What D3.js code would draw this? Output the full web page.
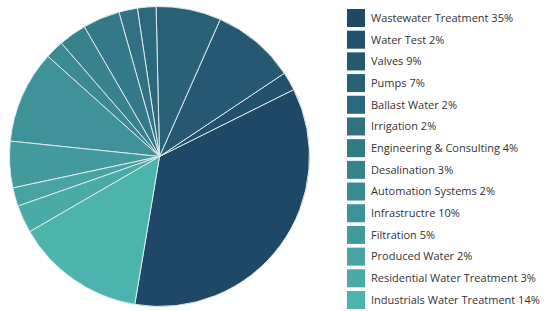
<!DOCTYPE html>
<html>
	<head>
		<script src="https://d3js.org/d3.v7.min.js"></script>
		<style>
			body { margin: 0; background: #fff; }
			svg { display: block; }
			.legend text { font-family: "Open Sans", sans-serif; font-size: 11px; fill: #333; }
		</style>
	</head>
	<body>
		<svg id="chart" width="560" height="311"></svg>
		<script>
			// segments, in legend order
			var categories = ["Wastewater Treatment", "Water Test", "Valves", "Pumps", "Ballast Water",
				"Irrigation", "Engineering & Consulting", "Desalination", "Automation Systems",
				"Infrastructre", "Filtration", "Produced Water", "Residential Water Treatment",
				"Industrials Water Treatment"];
			var shares = [35, 2, 9, 7, 2, 2, 4, 3, 2, 10, 5, 2, 3, 14];

			var svg = d3.select("#chart");
			var cx = 159.5, cy = 156.5, radius = 150;

			var color = d3.scaleLinear()
				.domain([0, categories.length - 1])
				.range(["#1f4866", "#4db3ad"])
				.interpolate(d3.interpolateRgb);

			var data = categories.map(function(c, i) {
				return {name: c, value: shares[i], idx: i};
			});

			// slices run counter-clockwise, starting just left of the bottom
			var start = 189.5 * Math.PI / 180;
			var pie = d3.pie()
				.sort(null)
				.value(function(d) { return d.value; })
				.startAngle(start)
				.endAngle(start - 2 * Math.PI);

			var arc = d3.arc().innerRadius(0).outerRadius(radius);

			var g = svg.append("g").attr("transform", "translate(" + cx + "," + cy + ")");
			g.selectAll("path")
				.data(pie(data))
				.enter()
				.append("path")
				.attr("d", arc)
				.attr("fill", function(d) { return color(d.data.idx); })
				.attr("stroke", "#dcebec")
				.attr("stroke-width", 1);

			/*** legend ***/
			var y = d3.scaleBand()
				.domain(categories)
				.range([9, 309])
				.paddingInner(0.17);

			var legend = svg.append("g").attr("class", "legend");
			var rows = legend.selectAll("g")
				.data(data)
				.enter()
				.append("g")
				.attr("transform", function(d) { return "translate(347," + y(d.name) + ")"; });

			rows.append("rect")
				.attr("width", 18)
				.attr("height", y.bandwidth())
				.attr("fill", function(d) { return color(d.idx); });

			rows.append("text")
				.attr("x", 24)
				.attr("y", y.bandwidth() / 2)
				.attr("dy", "0.35em")
				.text(function(d) { return d.name + " " + d.value + "%"; });
		</script>
	</body>
</html>
